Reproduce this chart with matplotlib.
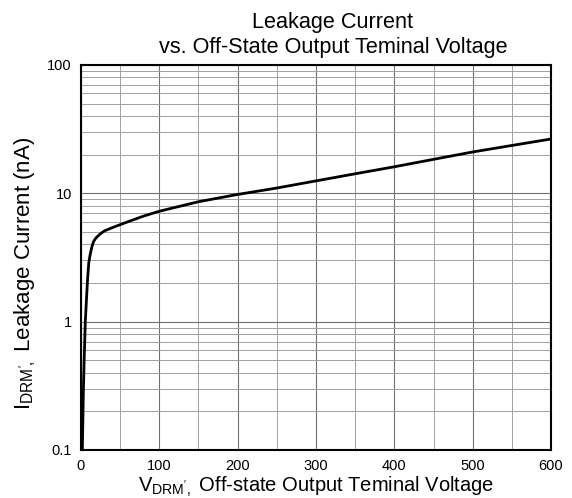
import matplotlib
matplotlib.use("Agg")
import matplotlib.pyplot as plt
from matplotlib.ticker import FixedLocator, LogLocator, NullFormatter

plt.rcParams['font.family'] = ['Liberation Sans', 'DejaVu Sans']
plt.rcParams['mathtext.fontset'] = 'custom'
plt.rcParams['mathtext.rm'] = 'Liberation Sans'

# Data
voltage = [1.7, 3, 4, 5.5, 7, 8.5, 10, 12, 14, 16, 18, 20, 25, 30, 40, 50, 63, 80,
           100, 150, 200, 250, 300, 350, 400, 450, 500, 550, 600]
current = [0.1, 0.28, 0.5, 1.0, 1.5, 2.2, 2.9, 3.4, 3.85, 4.2, 4.4, 4.55, 4.85, 5.1,
           5.4, 5.7, 6.1, 6.65, 7.25, 8.6, 9.8, 11.0, 12.5, 14.2, 16.1, 18.4, 21.0, 23.6, 26.5]
x_ticks = [0, 100, 200, 300, 400, 500, 600]
y_ticks = [0.1, 1, 10, 100]
y_tick_labels = ['0.1', '1', '10', '100']

fig = plt.figure(figsize=(5.72, 4.98), dpi=100)
ax = fig.add_axes([0.1416, 0.0964, 0.8217, 0.7731])

ax.plot(voltage, current, color='black', lw=2.0, zorder=3)

ax.set_yscale('log')
ax.set_xlim(0, 600)
ax.set_ylim(0.1, 100)

ax.set_xticks(x_ticks)
ax.set_xticklabels([str(t) for t in x_ticks])
ax.xaxis.set_minor_locator(FixedLocator(list(range(50, 600, 100))))
ax.set_yticks(y_ticks)
ax.set_yticklabels(y_tick_labels)
ax.yaxis.set_minor_locator(LogLocator(base=10, subs=range(2, 10)))
ax.yaxis.set_minor_formatter(NullFormatter())

ax.grid(True, which='major', color='#707070', lw=0.8)
ax.grid(True, which='minor', color='#a0a0a0', lw=0.7)
ax.tick_params(which='both', length=0, labelsize=10.5, pad=6.5)

for s in ax.spines.values():
    s.set_linewidth(1.5)
    s.set_color('black')

fig.text(0.582, 0.943, 'Leakage Current', ha='center', va='baseline', fontsize=15.6)
fig.text(0.582, 0.893, 'vs. Off-State Output Teminal Voltage', ha='center', va='baseline', fontsize=15.6)

ax.set_xlabel(r"$\mathregular{V_{DRM',}}$ Off-state Output Teminal Voltage", fontsize=14.5, labelpad=1)
fig.text(0.044, 0.450, r"$\mathregular{I_{DRM',}}$ Leakage Current (nA)", rotation=90,
         ha='center', va='center', fontsize=16)

fig.savefig('out.png', dpi=100)
